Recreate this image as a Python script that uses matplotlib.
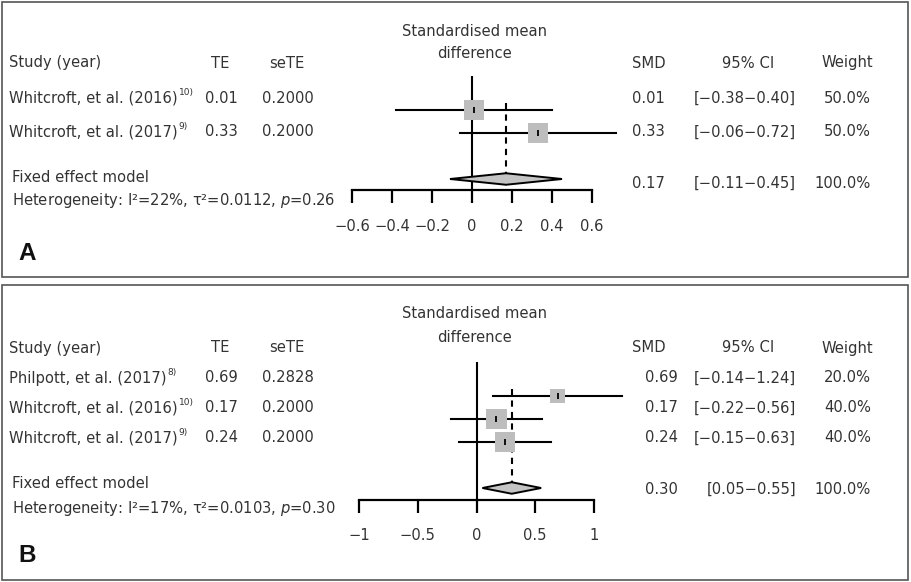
import matplotlib.pyplot as plt
from matplotlib.patches import Polygon, Rectangle

W, H = 911, 582

# ---- panel A data ----
a_studies = ["Whitcroft, et al. (2016)", "Whitcroft, et al. (2017)"]
a_refs = ["10)", "9)"]
a_te = ["0.01", "0.33"]
a_sete = ["0.2000", "0.2000"]
a_smd = [0.01, 0.33]
a_lo = [-0.38, -0.06]
a_hi = [0.40, 0.72]
a_ci = ["[\u22120.38\u22120.40]", "[\u22120.06\u22120.72]"]
a_weight = [50.0, 50.0]
a_fixed = [0.17, -0.11, 0.45]
a_fixed_ci = "[\u22120.11\u22120.45]"
a_het = "Heterogeneity: I\u00b2=22%, \u03c4\u00b2=0.0112, $p$=0.26"
a_ticks = [-0.6, -0.4, -0.2, 0, 0.2, 0.4, 0.6]
a_ticklabels = ["\u22120.6", "\u22120.4", "\u22120.2", "0", "0.2", "0.4", "0.6"]

# ---- panel B data ----
b_studies = ["Philpott, et al. (2017)", "Whitcroft, et al. (2016)", "Whitcroft, et al. (2017)"]
b_refs = ["8)", "10)", "9)"]
b_te = ["0.69", "0.17", "0.24"]
b_sete = ["0.2828", "0.2000", "0.2000"]
b_smd = [0.69, 0.17, 0.24]
b_lo = [0.14, -0.22, -0.15]   # drawn line (label says -0.14)
b_hi = [1.24, 0.56, 0.63]
b_ci = ["[\u22120.14\u22121.24]", "[\u22120.22\u22120.56]", "[\u22120.15\u22120.63]"]
b_weight = [20.0, 40.0, 40.0]
b_fixed = [0.30, 0.05, 0.55]
b_fixed_ci = "[0.05\u22120.55]"
b_het = "Heterogeneity: I\u00b2=17%, \u03c4\u00b2=0.0103, $p$=0.30"
b_ticks = [-1, -0.5, 0, 0.5, 1]
b_ticklabels = ["\u22121", "\u22120.5", "0", "0.5", "1"]

TXT = "#333333"
FS = 10.6
ROW = 23  # px per forest row

plt.rcParams['font.family'] = ['DejaVu Sans']


def fx(x):
    return x / W


def fy(y):
    return 1 - y / H


def draw_panel(fig, lay, studies, refs, te, sete, smd, lo, hi, ci, weight, fixed, fixed_ci, het,
               ticks, ticklabels):
    n = len(studies)
    renderer = fig.canvas.get_renderer()
    # panel border
    fig.patches.append(Rectangle((fx(2), fy(lay['box'][1])), fx(906),
                                 (lay['box'][1] - lay['box'][0]) / H,
                                 transform=fig.transFigure, fill=False,
                                 edgecolor="#555555", lw=1.2))
    # title
    fig.text(fx(475), fy(lay['title'][0]), "Standardised mean", ha='center', va='center',
             fontsize=FS, color=TXT)
    fig.text(fx(475), fy(lay['title'][1]), "difference", ha='center', va='center',
             fontsize=FS, color=TXT)
    # headers
    hy = fy(lay['header'])
    fig.text(fx(9), hy, "Study (year)", va='center', fontsize=FS, color=TXT)
    fig.text(fx(220), hy, "TE", ha='center', va='center', fontsize=FS, color=TXT)
    fig.text(fx(287), hy, "seTE", ha='center', va='center', fontsize=FS, color=TXT)
    fig.text(fx(632), hy, "SMD", va='center', fontsize=FS, color=TXT)
    fig.text(fx(748), hy, "95% CI", ha='center', va='center', fontsize=FS, color=TXT)
    fig.text(fx(847), hy, "Weight", ha='center', va='center', fontsize=FS, color=TXT)
    # study rows
    for i in range(n):
        y = fy(lay['rows'][i])
        t = fig.text(fx(9), y, studies[i], va='center', fontsize=FS, color=TXT)
        bb = t.get_window_extent(renderer)
        fig.text(fx(bb.x1 + 1), fy(lay['rows'][i] - 5), refs[i], va='center',
                 fontsize=6.5, color=TXT)
        fig.text(fx(205), y, te[i], va='center', fontsize=FS, color=TXT)
        fig.text(fx(262), y, sete[i], va='center', fontsize=FS, color=TXT)
        fig.text(fx(lay['smd_x']), y, f"{smd[i]:.2f}", va='center', fontsize=FS, color=TXT)
        fig.text(fx(796), y, ci[i], ha='right', va='center', fontsize=FS, color=TXT)
        fig.text(fx(871), y, f"{weight[i]:.1f}%", ha='right', va='center', fontsize=FS, color=TXT)
    fig.text(fx(12), fy(lay['fixed']), "Fixed effect model", va='center', fontsize=FS, color=TXT)
    fig.text(fx(12), fy(lay['het']), het, va='center', fontsize=FS, color=TXT)
    ry = fy(lay['fixed_r'])
    fig.text(fx(lay['smd_x']), ry, f"{fixed[0]:.2f}", va='center', fontsize=FS, color=TXT)
    fig.text(fx(796), ry, fixed_ci, ha='right', va='center', fontsize=FS, color=TXT)
    fig.text(fx(871), ry, f"{sum(weight):.1f}%", ha='right', va='center', fontsize=FS, color=TXT)
    # panel letter
    fig.text(fx(18), fy(lay['letter']), lay['name'], va='center', fontsize=17.5,
             fontweight='bold', family='Liberation Sans', color='#111111')

    # forest axes
    top = lay['row0'] - 1.5 * ROW
    bottom = lay['row0'] + (n + 1.5) * ROW
    left, right = lay['xpx']
    ax = fig.add_axes([fx(left), fy(bottom), (right - left) / W, (bottom - top) / H])
    ax.patch.set_alpha(0)
    ax.set_xlim(ticks[0], ticks[-1])
    ax.set_ylim(n + 1.5, -1.5)
    for s in ['top', 'left', 'right']:
        ax.spines[s].set_visible(False)
    ax.spines['bottom'].set_linewidth(1.6)
    ax.set_xticks(ticks, ticklabels)
    ax.set_yticks([])
    ax.tick_params(axis='x', direction='out', length=9.5, width=1.6, pad=11,
                   labelsize=FS, labelcolor=TXT)

    ax.axvline(0, color='black', lw=1.5, zorder=1)
    ax.plot([fixed[0], fixed[0]], [-0.3, n + 0.72], color='black', lw=1.5,
            ls=(0, (3, 2.5)), zorder=1)
    wmax = max(weight)
    for i in range(n):
        ax.plot([lo[i], hi[i]], [i, i], color='black', lw=1.5, clip_on=False, zorder=2)
        side = 14.5 * (weight[i] / wmax) ** 0.5
        ax.scatter([smd[i]], [i], marker='s', s=side ** 2, color='#bdbdbd',
                   edgecolors='none', zorder=3, clip_on=False)
        ax.plot([smd[i]], [i], marker='|', ms=5, mew=1.3, color='black', zorder=4)
    d = n + 1
    ax.add_patch(Polygon([(fixed[1], d), (fixed[0], d - 0.25), (fixed[2], d),
                          (fixed[0], d + 0.25)], closed=True, facecolor='#c4c4c4',
                         edgecolor='black', lw=1.4, zorder=2))


fig = plt.figure(figsize=(W / 100, H / 100), dpi=100)

lay_a = dict(name="A", box=(2, 277), title=(31, 54), header=63, rows=[98, 132],
             fixed=177, het=201, fixed_r=183, smd_x=632, letter=254,
             row0=110, xpx=(352, 592))
lay_b = dict(name="B", box=(285, 580), title=(313, 337), header=348, rows=[378, 408, 438],
             fixed=483, het=508, fixed_r=489, smd_x=645, letter=555,
             row0=396, xpx=(359, 594))

draw_panel(fig, lay_a, a_studies, a_refs, a_te, a_sete, a_smd, a_lo, a_hi, a_ci, a_weight,
           a_fixed, a_fixed_ci, a_het, a_ticks, a_ticklabels)
draw_panel(fig, lay_b, b_studies, b_refs, b_te, b_sete, b_smd, b_lo, b_hi, b_ci, b_weight,
           b_fixed, b_fixed_ci, b_het, b_ticks, b_ticklabels)

fig.savefig("out.png", dpi=100)
